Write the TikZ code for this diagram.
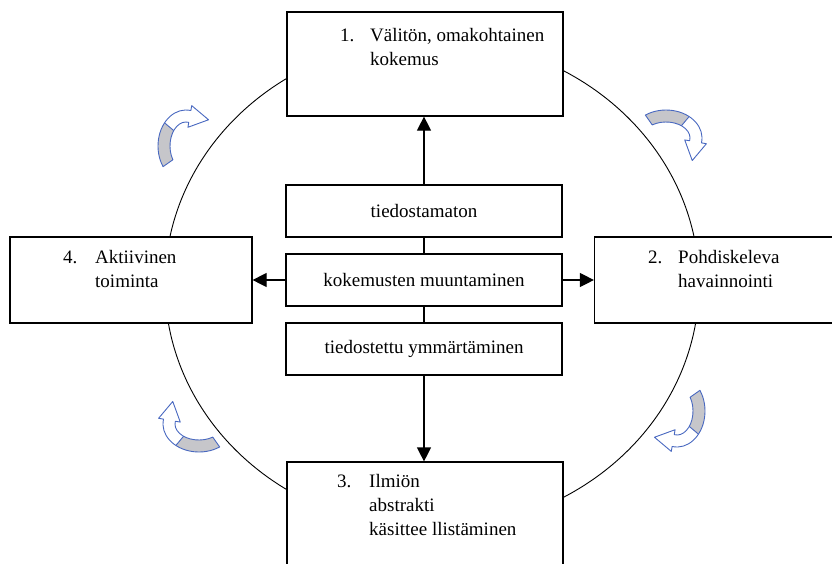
\documentclass[tikz,border=0pt]{standalone}
\usepackage{fontspec}
\setmainfont{Liberation Serif}
\usetikzlibrary{arrows.meta, calc}
\definecolor{arrowblue}{RGB}{72,104,192}
\definecolor{arrowgray}{RGB}{198,198,202}

\begin{document}
\begin{tikzpicture}[x=1pt, y=-1pt,
  every node/.style={font=\fontsize{19}{24}\selectfont},
  stagebox/.style={draw, line width=1.2pt, fill=white, inner sep=0pt},
  midbox/.style={stagebox, minimum width=276, minimum height=52},
  stagetext/.style={anchor=base west, inner sep=0pt},
  link/.style={line width=1.2pt},
  arrowlink/.style={link, -{Triangle[length=14pt, width=14pt]}},
  turnarrow/.pic={
    \fill[arrowgray] (-125:24 and 16) arc[start angle=-125, end angle=-50, x radius=24, y radius=16]
      -- (-50:36 and 28) arc[start angle=-50, end angle=-125, x radius=36, y radius=28] -- cycle;
    \draw[arrowblue, line width=0.9pt, line join=round]
      (-125:24 and 16) arc[start angle=-125, end angle=10, x radius=24, y radius=16]
      -- (10:19 and 11) -- ($(10:30 and 22)+(100:19)$) -- (10:41 and 33) -- (10:36 and 28)
      arc[start angle=10, end angle=-125, x radius=36, y radius=28] -- cycle;
    \draw[arrowblue, line width=0.9pt] (-50:24 and 16) -- (-50:36 and 28);
  }]
\useasboundingbox (0,0) rectangle (832,563);
\draw[line width=0.9pt] (432,284) ellipse[x radius=267, y radius=245];
\pic at (666,138) {turnarrow};
\pic[rotate=-90] at (677,411) {turnarrow};
\pic[rotate=180] at (199,424) {turnarrow};
\pic[rotate=90] at (186,146) {turnarrow};

\node[stagebox, minimum width=276, minimum height=104] (kokemus) at (425,64) {};
\node[stagebox, minimum width=242, minimum height=86] (toiminta) at (131,280) {};
\node[stagebox, minimum width=245, minimum height=86] (havainnointi) at (717,280) {};
\node[stagebox, minimum width=276, minimum height=108] (kasitteet) at (425,516) {};
\node[midbox] (tiedostamaton) at (424,211) {tiedostamaton};
\node[midbox] (muuntaminen) at (424,280) {kokemusten muuntaminen};
\node[midbox] (ymmartaminen) at (424,349) {tiedostettu ymmärtäminen};

\node[stagetext] (kokemusteksti) at (340,41)
  {\begin{tabular}[t]{@{}p{30pt}@{}l@{}}1. & Välitön, omakohtainen\\ & kokemus\end{tabular}};
\node[stagetext] (havainnointiteksti) at (648,263)
  {\begin{tabular}[t]{@{}p{30pt}@{}l@{}}2. & Pohdiskeleva\\ & havainnointi\end{tabular}};
\node[stagetext] (kasitteetteksti) at (337,487)
  {\begin{tabular}[t]{@{}p{32pt}@{}l@{}}3. & Ilmiön\\ & abstrakti\\ & käsittee llistäminen\end{tabular}};
\node[stagetext] (toimintateksti) at (63,263)
  {\begin{tabular}[t]{@{}p{32pt}@{}l@{}}4. & Aktiivinen\\ & toiminta\end{tabular}};

\draw[arrowlink] (tiedostamaton.north) -- (tiedostamaton.north |- kokemus.south);
\draw[link] (tiedostamaton) -- (muuntaminen);
\draw[link] (muuntaminen) -- (ymmartaminen);
\draw[arrowlink] (ymmartaminen.south) -- (ymmartaminen.south |- kasitteet.north);
\draw[arrowlink] (muuntaminen.west) -- (muuntaminen.west -| toiminta.east);
\draw[arrowlink] (muuntaminen.east) -- (muuntaminen.east -| havainnointi.west);
\end{tikzpicture}
\end{document}
